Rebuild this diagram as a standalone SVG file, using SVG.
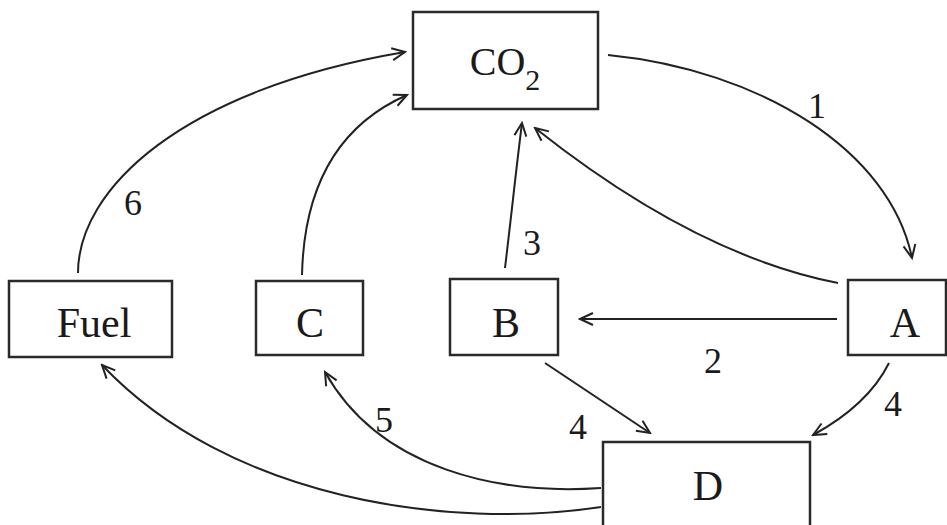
<svg xmlns="http://www.w3.org/2000/svg" width="947" height="525" viewBox="0 0 947 525">
<style>
.box{fill:#fff;stroke:#2a2a2a;stroke-width:2.5}
.lbl{font-family:"Liberation Serif","Times New Roman",serif;font-size:42px;fill:#1a1a1a;text-anchor:middle}
.num{font-family:"Liberation Serif","Times New Roman",serif;font-size:36px;fill:#1a1a1a;text-anchor:middle}
.edge{fill:none;stroke:#222;stroke-width:2;marker-end:url(#arr)}
</style>
<defs>
<marker id="arr" viewBox="-16 -8 18 16" refX="0" refY="0" markerWidth="18" markerHeight="16" markerUnits="userSpaceOnUse" orient="auto">
<path d="M-13,-6 L0,0 L-13,6" fill="none" stroke="#222" stroke-width="2"/>
</marker>
</defs>
<rect width="947" height="525" fill="#fff"/>
<g id="connectors">
<path class="edge" d="M608,55 C760,70 890,150 912,258"/>
<path class="edge" d="M838,283 Q695,255 535,128"/>
<path class="edge" d="M505,268 C512,210 516,170 522,123"/>
<path class="edge" d="M302,275 Q305,140 407,95"/>
<path class="edge" d="M78,273 C78,190 180,90 405,52"/>
<path class="edge" d="M837,319 L580,319"/>
<path class="edge" d="M545,363 L650,433"/>
<path class="edge" d="M889,363 Q868,405 813,435"/>
<path class="edge" d="M601,488 C500,495 380,470 325,372"/>
<path class="edge" d="M601,507 C450,530 230,500 102,365"/>
</g>
<g id="labels">
<text class="num" x="817" y="118">1</text>
<text class="num" x="713" y="373">2</text>
<text class="num" x="532" y="255">3</text>
<text class="num" x="578" y="439">4</text>
<text class="num" x="893" y="416">4</text>
<text class="num" x="384" y="432">5</text>
<text class="num" x="133" y="215">6</text>
</g>
<g id="CO2"><rect class="box" x="413" y="12" width="185" height="97"/>
<text class="lbl" x="505" y="75" style="font-size:40px">CO<tspan dy="15" style="font-size:30px">2</tspan></text></g>
<g id="Fuel"><rect class="box" x="9" y="281" width="163" height="76"/><text class="lbl" x="94" y="337">Fuel</text></g>
<g id="C"><rect class="box" x="256" y="281" width="107" height="74"/><text class="lbl" x="310" y="337">C</text></g>
<g id="B"><rect class="box" x="450" y="279" width="108" height="76"/><text class="lbl" x="506" y="337">B</text></g>
<g id="A"><rect class="box" x="848" y="280" width="98" height="75"/><text class="lbl" x="905" y="337">A</text></g>
<g id="D"><rect class="box" x="603" y="442" width="207" height="100"/><text class="lbl" x="708" y="500">D</text></g>
</svg>
